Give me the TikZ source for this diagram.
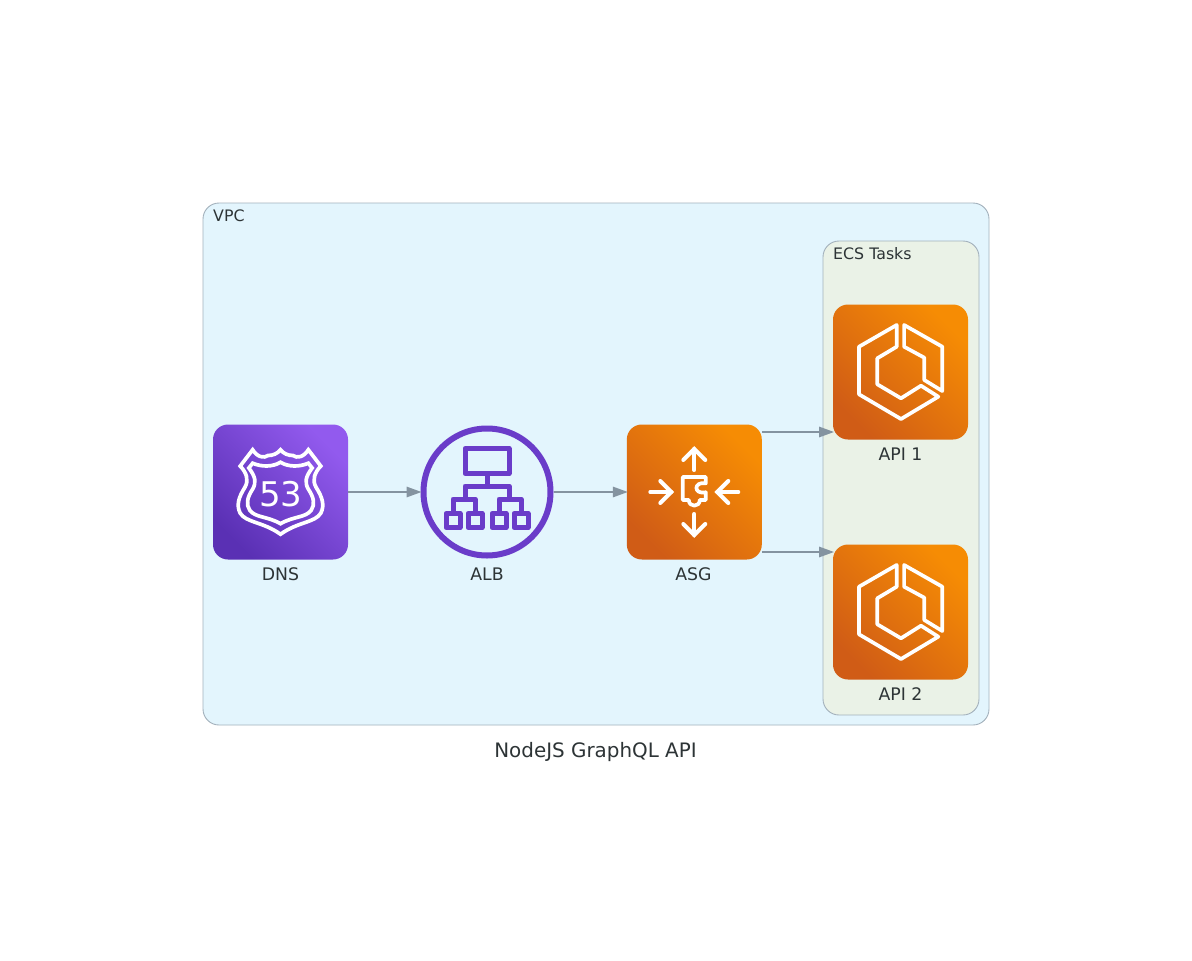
\documentclass[tikz,border=0pt]{standalone}
\usepackage{fontspec}
\setmainfont{DejaVu Sans}
\usetikzlibrary{positioning,arrows.meta}
\definecolor{vpcfill}{HTML}{E3F5FD}
\definecolor{ecsfill}{HTML}{EAF2E7}
\definecolor{frameline}{HTML}{A3B1BC}
\definecolor{inktext}{HTML}{2D3436}
\definecolor{linkgray}{HTML}{8493A0}
\definecolor{albpurple}{HTML}{6A3CC9}
\tikzset{
  container/.style={draw=frameline, line width=0.9pt, rounded corners=16pt},
  caption/.style={inner sep=0pt, text=inktext, font=\fontsize{15.8}{18}\selectfont},
  iconlabel/.style={inner sep=0pt, text height=12.6pt, text depth=0pt, text=inktext, font=\fontsize{17.3}{20}\selectfont},
  iconbox/.style={minimum size=135pt, inner sep=0pt, outer sep=0pt, rounded corners=15pt},
  purplebox/.style={iconbox, bottom color={rgb,255:red,90;green,48;blue,180}, top color={rgb,255:red,146;green,90;blue,238}, shading angle=-45},
  orangebox/.style={iconbox, bottom color={rgb,255:red,208;green,92;blue,22}, top color={rgb,255:red,246;green,140;blue,4}, shading angle=-45},
  glyph/.style={draw=white, line width=3.7pt, line join=miter, line cap=round},
  albline/.style={draw=albpurple, line width=5pt, line join=round},
  link/.style={draw=linkgray, line width=1.5pt, shorten >=-1pt, -{Triangle[length=15pt,width=10.5pt]}},
  pics/shield/.style={code={
    \draw[glyph, scale=.96] (-29,-44) .. controls (-24,-36) and (-17,-35) .. (-13,-38) .. controls (-8,-38) and (-3,-40) .. (0,-44)
      .. controls (3,-40) and (8,-38) .. (13,-38) .. controls (17,-35) and (24,-36) .. (29,-44)
      -- (42,-27) .. controls (35,-20) and (33,-12) .. (37,-5) .. controls (44,6) and (46,14) .. (42,22)
      .. controls (36,32) and (18,31) .. (0,44) .. controls (-18,31) and (-36,32) .. (-42,22)
      .. controls (-46,14) and (-44,6) .. (-37,-5) .. controls (-33,-12) and (-35,-20) .. (-42,-27) -- cycle;
    \draw[glyph, scale=.96] (-29,-30) .. controls (-20,-26) and (-8,-26) .. (0,-31) .. controls (8,-26) and (20,-26) .. (29,-30)
      -- (33,-25) .. controls (26,-16) and (25,-10) .. (29,-3) .. controls (35,6) and (36,13) .. (32,19)
      .. controls (26,27) and (14,25) .. (0,33) .. controls (-14,25) and (-26,27) .. (-32,19)
      .. controls (-36,13) and (-35,6) .. (-29,-3) .. controls (-25,-10) and (-26,-16) .. (-33,-25) -- cycle;
    \node[inner sep=0pt, text=white, font=\fontsize{34}{40}\selectfont] (-num) at (0.5,2) {53};
  }},
  pics/balancer/.style={code={
    \draw[albline] (-22,-43.5) rectangle (22,-18.5);
    \draw[albline] (0,-18.5) -- (0,-6);
    \draw[albline] (-22,7) -- (-22,-6) -- (22,-6) -- (22,7);
    \foreach \bx in {-23,23}{
      \draw[albline] (\bx-11,22) -- (\bx-11,7) -- (\bx+11,7) -- (\bx+11,22);
    }
    \foreach \bx in {-34,-12,12,34}{
      \draw[albline] (\bx-7,21.5) rectangle (\bx+7,35.5);
    }
  }},
  pics/scaling/.style={code={
    \draw[glyph, line width=4pt] (0,-22) -- (0,-43);
    \draw[glyph, line width=4pt] (-11,-32) -- (0,-43) -- (11,-32);
    \draw[glyph, line width=4pt] (0,22) -- (0,43);
    \draw[glyph, line width=4pt] (-11,32) -- (0,43) -- (11,32);
    \draw[glyph, line width=4pt] (-44,0) -- (-23,0);
    \draw[glyph, line width=4pt] (-34,-11) -- (-23,0) -- (-34,11);
    \draw[glyph, line width=4pt] (44,0) -- (23,0);
    \draw[glyph, line width=4pt] (34,-11) -- (23,0) -- (34,11);
    \draw[glyph, line join=round] (-11.5,-15) -- (11.5,-15) -- (11.5,-8.7) .. controls (-1,-11) and (-1,3) .. (11.5,0.3)
      -- (11.5,8) -- (5.5,8) .. controls (5.5,15.5) and (-5.5,15.5) .. (-5.5,8) -- (-11.5,8) -- cycle;
  }},
  pics/ecsmark/.style={code={
    \draw[glyph, line join=round] (-3.8,-47) -- (-41.5,-25.3) -- (-41.5,22.3) -- (0.5,47) -- (37.8,24.7) -- (20.5,13.7)
      -- (0.5,26.3) -- (-23.2,12.3) -- (-23.2,-13.7) -- (-3.8,-25.3) -- cycle;
    \draw[glyph, line join=round] (3.6,-47) -- (41.8,-25.3) -- (41.8,19) -- (23.8,8) -- (23.8,-14.3) -- (3.6,-25.3) -- cycle;
  }}
}
\begin{document}
\begin{tikzpicture}[x=1pt, y=-1pt]
  \useasboundingbox[fill=white] (0,0) rectangle (1192,961);
  % clusters
  \path[container, fill=vpcfill] (203,203) rectangle (989,725);
  \path[container, fill=ecsfill] (823,241) rectangle (979,715);
  \node[caption, anchor=west] (vpclabel) at (213,216) {VPC};
  \node[caption, anchor=west] (ecslabel) at (833,254) {ECS Tasks};
  % icons
  \node[purplebox] (dns) at (280.5,492) {};
  \node[circle, draw=albpurple, line width=6pt, minimum size=127pt, inner sep=0pt] (alb) at (487,492) {};
  \node[orangebox] (asg) at (694.3,492) {};
  \node[orangebox] (api1) at (900.5,372) {};
  \node[orangebox] (api2) at (900.5,612) {};
  \pic (dnsglyph) at (dns.center) {shield};
  \pic (albglyph) at (alb.center) {balancer};
  \pic (asgglyph) at (asg.center) {scaling};
  \pic (api1glyph) at (api1.center) {ecsmark};
  \pic (api2glyph) at (api2.center) {ecsmark};
  % labels
  \node[iconlabel, below=8pt of dns] (dnslabel) {DNS};
  \node[iconlabel, below=8pt of asg.south -| alb] (alblabel) {ALB};
  \node[iconlabel, below=8pt of asg, xshift=-0.8pt] (asglabel) {ASG};
  \node[iconlabel, below=8pt of api1] (api1label) {API 1};
  \node[iconlabel, below=8pt of api2] (api2label) {API 2};
  \node[inner sep=0pt, text=inktext, font=\fontsize{19.9}{23}\selectfont] (title) at (595.5,752.5) {NodeJS GraphQL API};
  % links
  \draw[link] (dns) -- (alb);
  \draw[link] (alb) -- (asg);
  \draw[link] ([yshift=60pt]asg.east) -- ([yshift=-60pt]api1.west);
  \draw[link] ([yshift=-60pt]asg.east) -- ([yshift=60pt]api2.west);
\end{tikzpicture}
\end{document}
